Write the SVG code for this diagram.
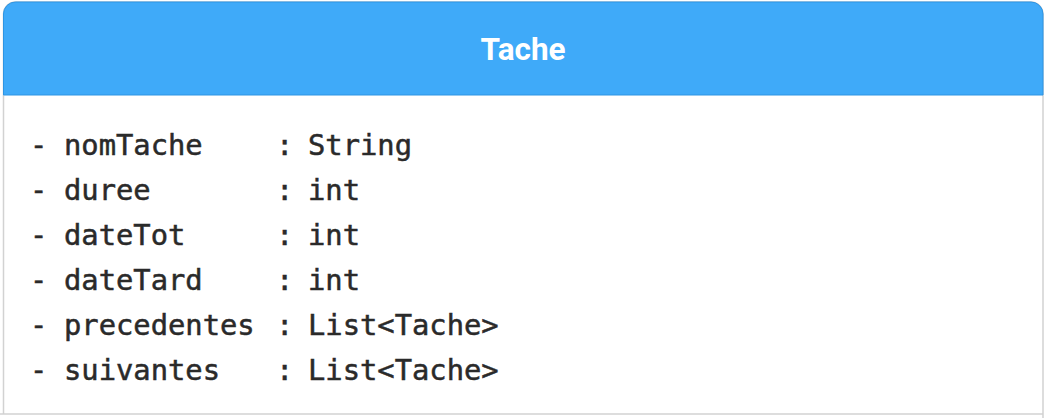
<svg xmlns="http://www.w3.org/2000/svg" width="1055" height="418" viewBox="0 0 1055 418">
  <style>
    .body { fill: #ffffff; stroke: #d2d2d2; stroke-width: 1.5; }
    .head { fill: #3faaf9; stroke: #2e95e3; stroke-width: 1; }
    .title { font-family: Roboto, "Liberation Sans", sans-serif; font-weight: 700; font-size: 31.5px; fill: #ffffff; text-anchor: middle; }
    .attr { font-family: "DejaVu Sans Mono", "Liberation Mono", monospace; font-size: 28.8px; fill: #2a2a2a; stroke: #2a2a2a; stroke-width: 0.5; }
  </style>
  <g id="Tache">
    <!-- class body, open at the bottom edge -->
    <path class="body" d="M3.5,414 V14 A12,12 0 0 1 15.5,2 H1031 A12,12 0 0 1 1043,14 V418 M0,414 H1043"/>
    <!-- class header with rounded top corners -->
    <path class="head" d="M3.5,95 V14 A12,12 0 0 1 15.5,2 H1031 A12,12 0 0 1 1043,14 V95 Z"/>
    <text class="title" x="523" y="60">Tache</text>
    <!-- attributes -->
    <g class="attr">
      <text x="30" y="155">-</text><text x="64" y="155">nomTache</text><text x="276" y="155">:</text><text x="308" y="155">String</text>
      <text x="30" y="200">-</text><text x="64" y="200">duree</text><text x="276" y="200">:</text><text x="308" y="200">int</text>
      <text x="30" y="245">-</text><text x="64" y="245">dateTot</text><text x="276" y="245">:</text><text x="308" y="245">int</text>
      <text x="30" y="290">-</text><text x="64" y="290">dateTard</text><text x="276" y="290">:</text><text x="308" y="290">int</text>
      <text x="30" y="335">-</text><text x="64" y="335">precedentes</text><text x="276" y="335">:</text><text x="308" y="335">List&lt;Tache&gt;</text>
      <text x="30" y="380">-</text><text x="64" y="380">suivantes</text><text x="276" y="380">:</text><text x="308" y="380">List&lt;Tache&gt;</text>
    </g>
  </g>
</svg>
